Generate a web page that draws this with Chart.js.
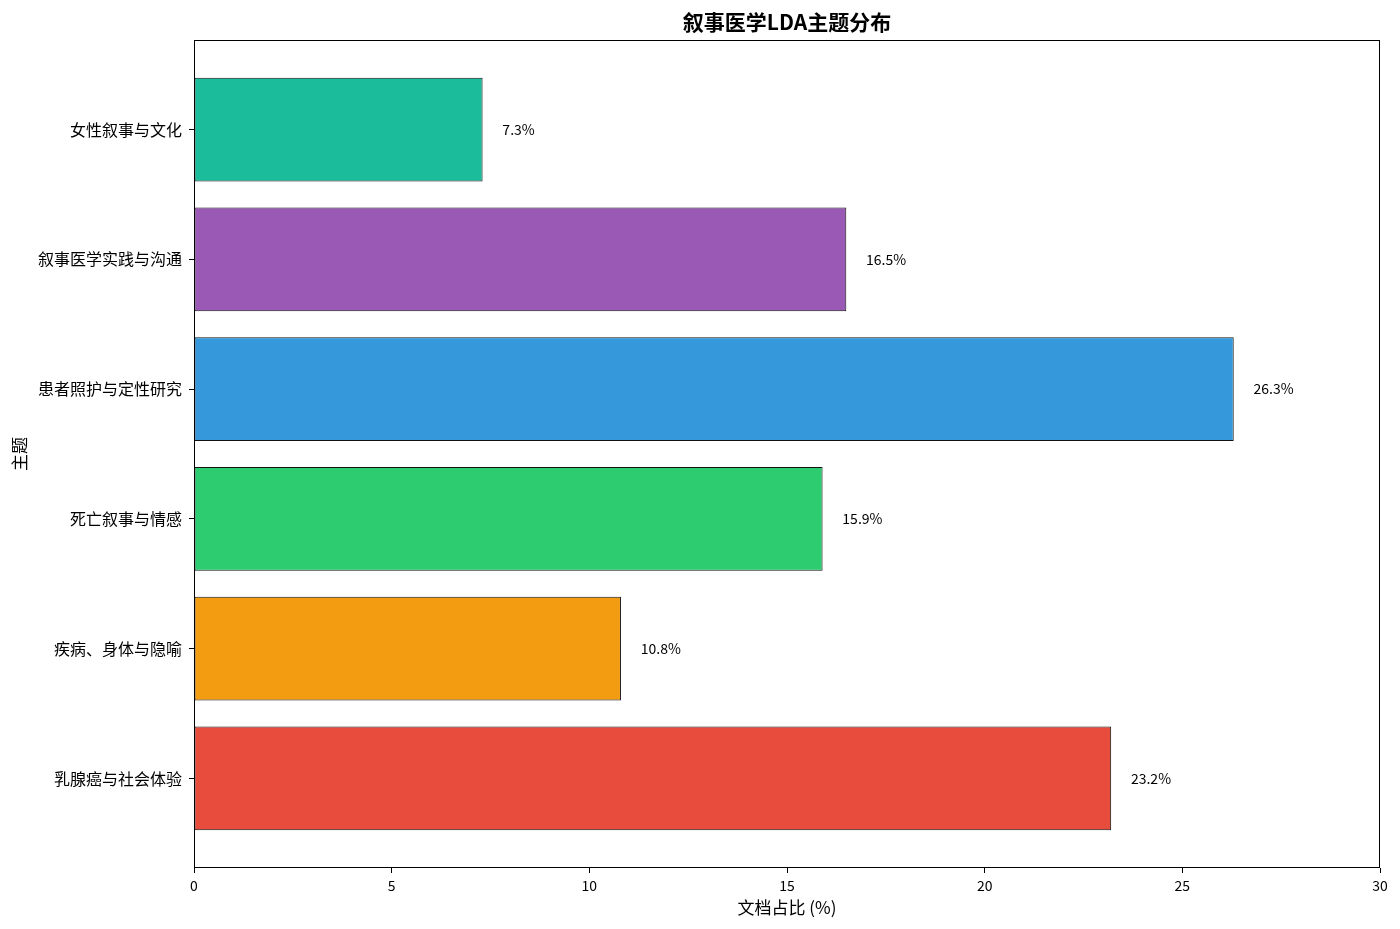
<!DOCTYPE html>
<html>
<head>
<meta charset="utf-8">
<script src="https://cdn.jsdelivr.net/npm/chart.js@4.4.1/dist/chart.umd.min.js"></script>
<style>
html,body{margin:0;padding:0;background:#fff;}
#wrap{width:1400px;height:929px;position:relative;}
</style>
</head>
<body>
<div id="wrap"><canvas id="c" width="1400" height="929"></canvas></div>
<script>
const categories = ['女性叙事与文化','叙事医学实践与沟通','患者照护与定性研究','死亡叙事与情感','疾病、身体与隐喻','乳腺癌与社会体验'];
const shares = [7.3, 16.5, 26.3, 15.9, 10.8, 23.2];
const barColors = ['#1abc9c','#9b59b6','#3498db','#2ecc71','#f39c12','#e74c3c'];
const xTicks = [0,5,10,15,20,25,30];
const chartTitle = '叙事医学LDA主题分布';
const xTitle = '文档占比 (%)';
const yTitle = '主题';

const FONT = '"Noto Sans CJK SC", "DejaVu Sans", sans-serif';

const points = shares.map((v,i)=>({x:v, y:i}));

const decor = {
  id:'decor',
  afterDraw(chart){
    const {ctx, chartArea:a, scales} = chart;
    ctx.save();
    ctx.strokeStyle = '#000';
    ctx.lineWidth = 1;
    ctx.strokeRect(a.left+0.5, a.top+0.5, a.right-a.left-1, a.bottom-a.top-1);
    // value labels
    ctx.fillStyle = '#000';
    ctx.font = '14px ' + FONT;
    ctx.textAlign = 'left';
    ctx.textBaseline = 'middle';
    shares.forEach((v,i)=>{
      const px = scales.x.getPixelForValue(v + 0.5);
      const py = scales.y.getPixelForValue(i);
      ctx.fillText(v.toFixed(1) + '%', px, py);
    });
    // title
    ctx.font = 'bold 21px ' + FONT;
    ctx.textAlign = 'center';
    ctx.fillText(chartTitle, (a.left+a.right)/2, 22);
    // x title
    ctx.font = '17px ' + FONT;
    ctx.fillText(xTitle, (a.left+a.right)/2, 908);
    // y title
    ctx.translate(20, (a.top+a.bottom)/2);
    ctx.rotate(-Math.PI/2);
    ctx.fillText(yTitle, 0, 0);
    ctx.restore();
  }
};

new Chart(document.getElementById('c'), {
  type:'bar',
  data:{
    datasets:[{
      data: points,
      backgroundColor: barColors,
      borderColor: '#111',
      borderWidth: 1,
      borderSkipped: false,
      categoryPercentage: 0.8,
      barPercentage: 1.0
    }]
  },
  options:{
    indexAxis:'y',
    responsive:false,
    animation:false,
    devicePixelRatio:1,
    layout:{padding:{left:0, right:20, top:40, bottom:0}},
    plugins:{legend:{display:false}, tooltip:{enabled:false}},
    scales:{
      x:{
        type:'linear', min:0, max:30, offset:false,
        afterBuildTicks(s){ s.ticks = xTicks.map(v=>({value:v})); },
        afterFit(s){ s.height = 61; },
        grid:{drawOnChartArea:false, drawTicks:true, tickLength:5, color:'#000', offset:false},
        border:{display:false},
        ticks:{color:'#000', font:{size:14, family:FONT}, padding:4, maxRotation:0}
      },
      y:{
        type:'linear', min:-0.69, max:5.69, reverse:true, offset:false,
        afterBuildTicks(s){ s.ticks = categories.map((c,i)=>({value:i})); },
        afterFit(s){ s.width = 194; },
        grid:{drawOnChartArea:false, drawTicks:true, tickLength:5, color:'#000', offset:false},
        border:{display:false},
        ticks:{color:'#000', font:{size:16, family:FONT}, padding:7,
          callback(v){ return categories[v] !== undefined ? categories[v] : ''; }}
      }
    }
  },
  plugins:[decor]
});
</script>
</body>
</html>
